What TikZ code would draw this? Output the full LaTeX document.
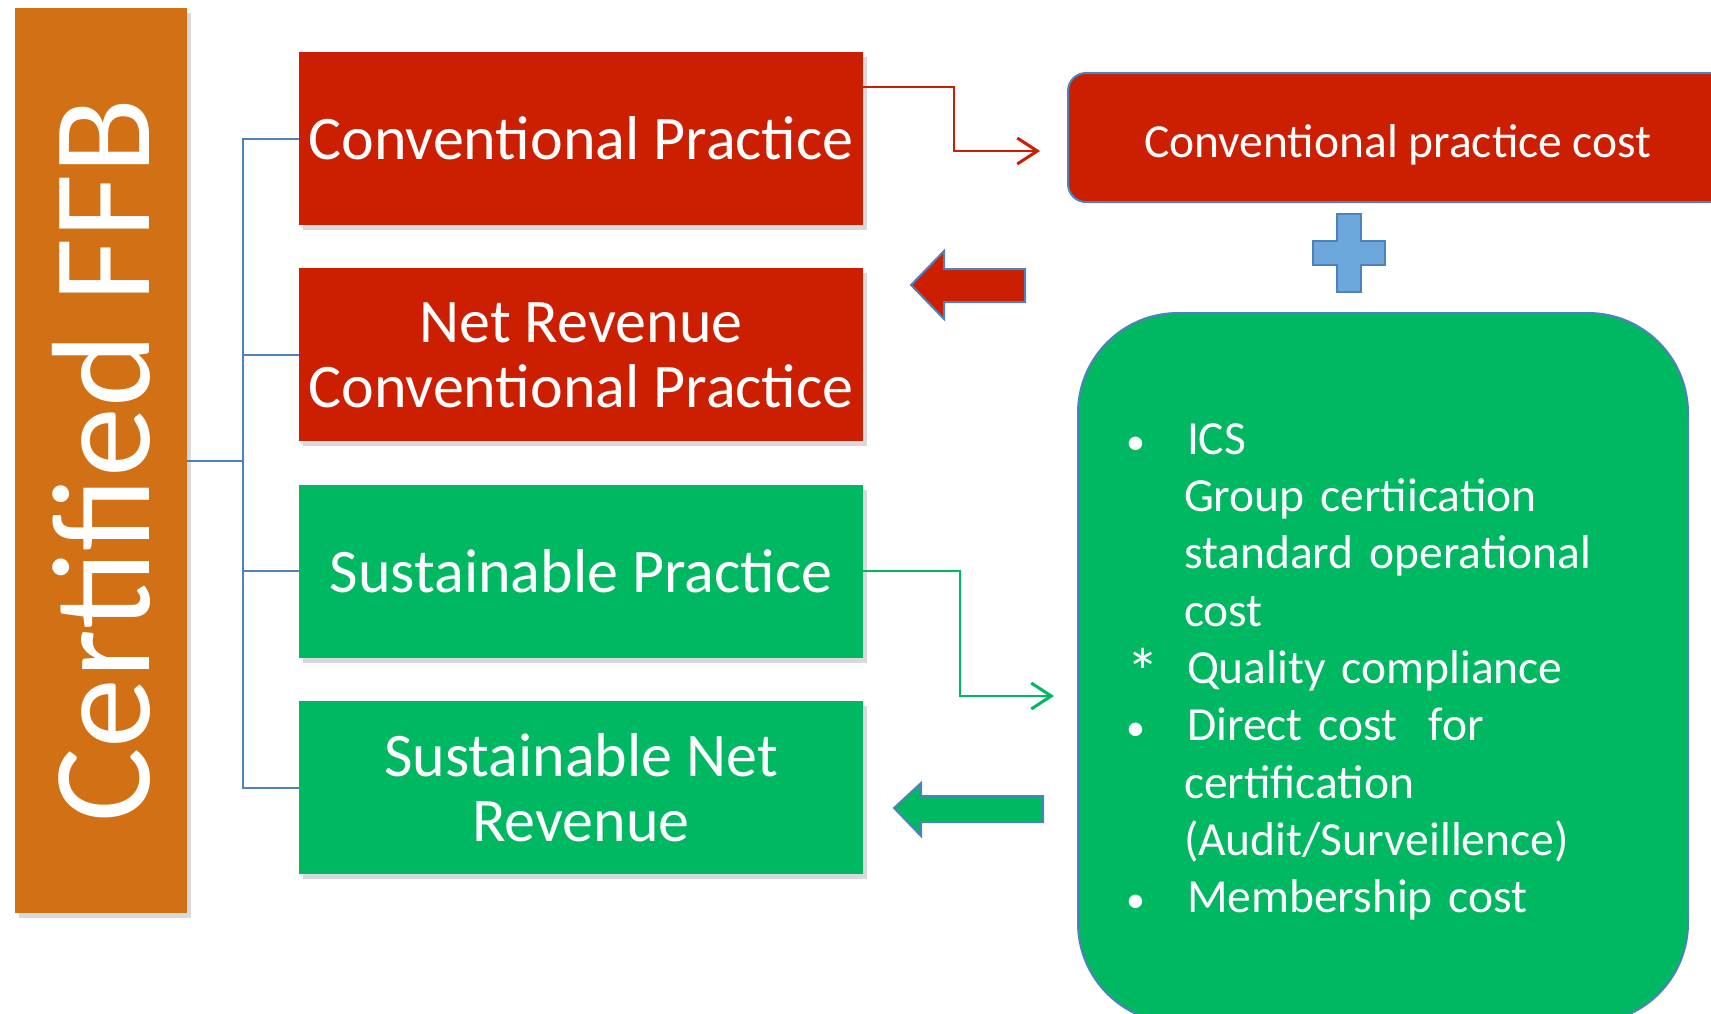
\documentclass[tikz,border=0pt]{standalone}
\usepackage{fontspec}
\setmainfont{Carlito}
\usetikzlibrary{positioning,shadows,arrows.meta}

\definecolor{ffborange}{RGB}{209,112,20}
\definecolor{convred}{RGB}{204,30,0}
\definecolor{sustgreen}{RGB}{0,184,98}
\definecolor{treeblue}{RGB}{79,129,189}
\definecolor{plusblue}{RGB}{108,168,220}

\tikzset{
  module/.style={rectangle,minimum width=564pt,minimum height=173pt,inner sep=0pt,text=white,align=center,
    font=\fontsize{62}{65}\selectfont,drop shadow={shadow xshift=4pt,shadow yshift=-5pt,opacity=.3}},
  conv/.style={module,fill=convred},
  sust/.style={module,fill=sustgreen},
  tree/.style={draw=treeblue,line width=2pt},
  feed/.style={line width=2pt,-{Straight Barb[length=20pt,width=26pt,line width=3pt]}},
  block/.style={draw=treeblue,line width=2pt,line join=miter},
}
\newcommand\icsitem[2]{\makebox[61pt][l]{#1}#2}
\newcommand\icsline[1]{\hspace*{58pt}#1}
\newcommand\icsbul{\scalebox{.8}{\textbullet}}

\begin{document}
\begin{tikzpicture}[x=1pt,y=-1pt]
  \useasboundingbox (0,0) rectangle (1711,1013);
  \clip (0,0) rectangle (1711,1013);
  % main modules
  \node[rectangle,fill=ffborange,minimum width=172pt,minimum height=905pt,text=white,
    font=\fontsize{140}{140}\selectfont,drop shadow={shadow xshift=4pt,shadow yshift=-5pt,opacity=.3}]
    (ffb) at (101,460.5) {\rotatebox{90}{Certified FFB}};
  \node[conv] (cp) at (581,138.5) {Conventional Practice};
  \node[conv,below=43pt of cp] (nrcp) {Net Revenue\\Conventional Practice};
  \node[sust,below=43pt of nrcp] (sp) {Sustainable Practice};
  \node[sust,below=43pt of sp] (snr) {Sustainable Net\\Revenue};

  % cost modules
  \node[rectangle,rounded corners=18pt,fill=convred,draw=treeblue,line width=2pt,minimum width=660pt,
    minimum height=129pt,text height=39pt,text depth=0pt,text=white,font=\fontsize{47.5}{57}\selectfont]
    (cost) at (1398,137.5) {Conventional practice cost};
  \node[rectangle,rounded corners=100pt,fill=sustgreen,draw=treeblue,line width=2pt,minimum width=610pt,
    minimum height=710pt,inner xsep=48pt,inner ysep=0pt,text width=514pt,align=left,text=white,
    font=\fontsize{47.5}{57.3}\selectfont] (ics) at (1383,668) {%
    \icsitem{\icsbul}{ICS}\\
    \icsline{Group certiication}\\
    \icsline{standard operational}\\
    \icsline{cost}\\
    \icsitem{\raisebox{-12pt}{\scalebox{1.4}{*}}}{Quality compliance}\\
    \icsitem{\icsbul}{Direct cost\ \ for}\\
    \icsline{certification}\\
    \icsline{(Audit/Surveillence)}\\
    \icsitem{\icsbul}{\raisebox{0pt}[\height][0pt]{Membership cost}}};

  % plus
  \draw[block,fill=plusblue] (1337,214) -- (1361,214) -- (1361,241) -- (1385,241) -- (1385,265) -- (1361,265)
    -- (1361,292) -- (1337,292) -- (1337,265) -- (1313,265) -- (1313,241) -- (1337,241) -- cycle;

  % back arrows
  \draw[block,fill=convred] (911,285) -- (944,251) -- (944,269) -- (1025,269) -- (1025,302) -- (944,302) -- (944,319) -- cycle;
  \draw[block,fill=sustgreen] (894,808) -- (921,783) -- (921,796) -- (1043,796) -- (1043,822) -- (921,822) -- (921,836) -- cycle;

  % tree
  \foreach \b in {cp,nrcp,sp,snr}
    \draw[tree] (ffb.east) -- ++(56,0) |- (\b.west);

  % cost links
  \coordinate (cin) at (1040,151);
  \coordinate (iin) at (1054,696);
  \draw[feed,convred] ([yshift=-35pt]cp.north east) -- ++(91,0) |- (cin);
  \draw[feed,sustgreen] (sp.east) -- ++(97,0) |- (iin);
\end{tikzpicture}
\end{document}
